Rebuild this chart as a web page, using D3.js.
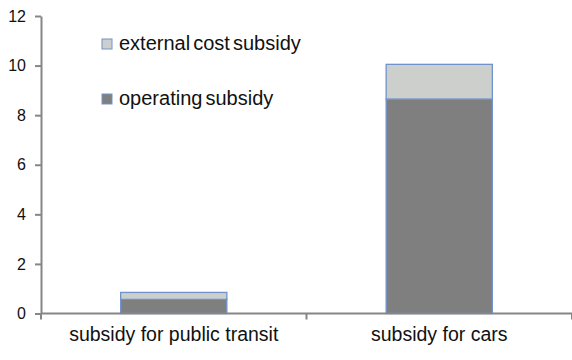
<!DOCTYPE html>
<html>
<head>
<meta charset="utf-8">
<script src="https://cdn.jsdelivr.net/npm/d3@7"></script>
<style>
  body { margin: 0; background: #fff; }
  text { font-family: "Liberation Sans", Arial, sans-serif; fill: #111; }
  .axis path, .axis line { stroke: #868686; stroke-width: 2; }
  .axis text { font-size: 16px; }
</style>
</head>
<body>
<div id="chart"></div>
<script>
var categories = ["subsidy for public transit", "subsidy for cars"];
var operating = [0.57, 8.65];
var external = [0.28, 1.4];
var seriesNames = ["operating subsidy", "external cost subsidy"];
var yTicks = [0, 2, 4, 6, 8, 10, 12];

var widthGlobal = 572, heightGlobal = 360,
    margin = {top: 16, right: 0, bottom: 46, left: 41},
    width = widthGlobal - margin.left - margin.right,
    height = 313.5 - margin.top;

var data = categories.map(function (c, i) {
  return {cat: c, operating: operating[i], external: external[i]};
});

var x = d3.scaleBand().domain(categories).range([0, width]);
var y = d3.scaleLinear().domain([0, 12]).range([height, 0]);
var colors = {operating: "#7f7f7f", external: "#cdcfcd"};

var svg = d3.select("#chart").append("svg")
  .attr("width", widthGlobal).attr("height", heightGlobal)
  .append("g")
  .attr("transform", "translate(" + margin.left + "," + margin.top + ")");

var stack = d3.stack().keys(["operating", "external"]);
var layers = stack(data);
var barW = x.bandwidth() * 0.4;

svg.selectAll(".layer").data(layers).enter().append("g")
  .attr("class", "layer")
  .attr("fill", function (d) { return colors[d.key]; })
  .selectAll("rect").data(function (d) { return d; }).enter().append("rect")
  .attr("x", function (d) { return x(d.data.cat) + (x.bandwidth() - barW) / 2; })
  .attr("y", function (d) { return y(d[1]); })
  .attr("width", barW)
  .attr("height", function (d) { return y(d[0]) - y(d[1]); })
  .attr("stroke", "#7093cc")
  .attr("stroke-width", 1.3);

// axes
svg.append("g").attr("class", "y axis")
  .call(d3.axisLeft(y).tickValues(yTicks).tickSize(6).tickPadding(9).tickSizeOuter(0))
  .call(function (g) { g.selectAll("text").attr("fill", "#111"); });

var xAxis = svg.append("g").attr("class", "x axis")
  .attr("transform", "translate(0," + height + ")");
xAxis.append("line").attr("x1", 0).attr("x2", width).attr("y1", 0).attr("y2", 0);
xAxis.selectAll(".tk").data(d3.range(categories.length + 1)).enter().append("line")
  .attr("class", "tk")
  .attr("x1", function (i) { return i * x.step(); })
  .attr("x2", function (i) { return i * x.step(); })
  .attr("y1", 0).attr("y2", 6);
xAxis.selectAll(".lbl").data(categories).enter().append("text")
  .attr("class", "lbl")
  .attr("x", function (d) { return x(d) + x.bandwidth() / 2; })
  .attr("y", 27)
  .attr("text-anchor", "middle")
  .style("font-size", "19.5px")
  .text(function (d) { return d; });

// legend
var legend = svg.append("g").attr("transform", "translate(61,23)");
var legendItems = [
  {name: seriesNames[1], key: "external", dy: 0},
  {name: seriesNames[0], key: "operating", dy: 55}
];
var li = legend.selectAll(".li").data(legendItems).enter().append("g")
  .attr("transform", function (d) { return "translate(0," + d.dy + ")"; });
li.append("rect").attr("width", 10).attr("height", 10)
  .attr("fill", function (d) { return colors[d.key]; })
  .attr("stroke", "#7093cc").attr("stroke-width", 1);
li.append("text").attr("x", 17).attr("y", 11)
  .style("font-size", "20px")
  .style("word-spacing", "-2.5px")
  .text(function (d) { return d.name; });
</script>
</body>
</html>
